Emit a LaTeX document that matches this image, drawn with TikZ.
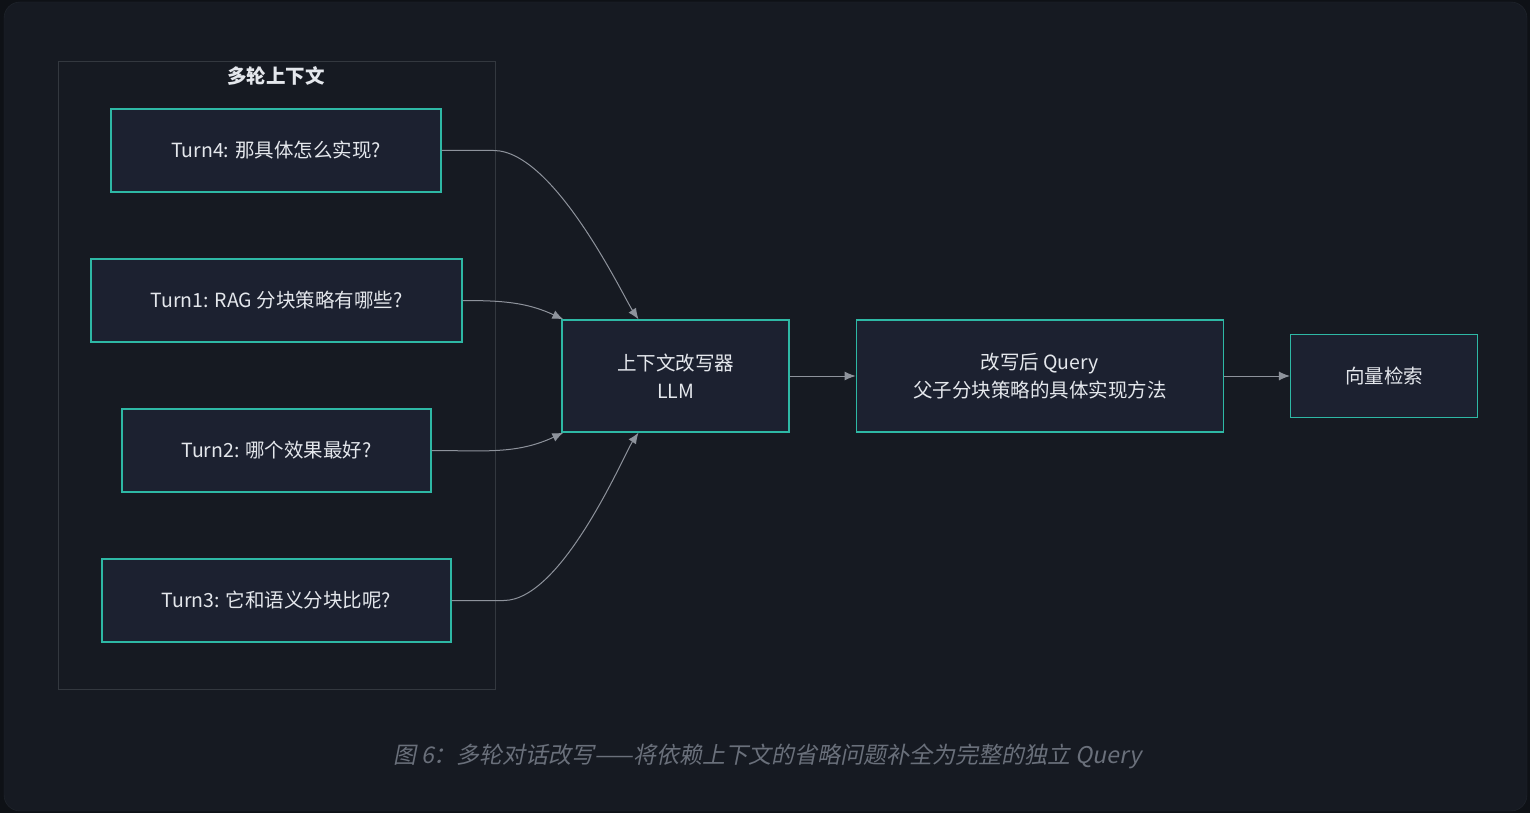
\documentclass[tikz,border=0pt]{standalone}
\usepackage{fontspec}
\setmainfont{Noto Sans CJK SC}
\newfontfamily\capfont[FakeSlant=0.2]{Noto Sans CJK SC}
\usepackage{tikz}
\usetikzlibrary{arrows.meta,positioning}

\definecolor{outerbg}{HTML}{0E1116}
\definecolor{panelbg}{HTML}{161A22}
\definecolor{panelline}{HTML}{22272F}
\definecolor{nodefill}{HTML}{1C2130}
\definecolor{tealline}{HTML}{2EB8A5}
\definecolor{groupline}{HTML}{33383F}
\definecolor{arrowgrey}{HTML}{8E939C}
\definecolor{textcol}{HTML}{E4E7EC}
\definecolor{capcol}{HTML}{6A707B}

\begin{document}
\begin{tikzpicture}[x=1pt,y=-1pt,>={Latex[length=11pt,width=9pt]},
  font=\fontsize{19.5}{28}\selectfont,
  turn node/.style={rectangle,draw=tealline,line width=1.3pt,fill=nodefill,text=textcol,minimum height=83pt,align=center},
  proc node/.style={turn node,minimum height=112pt},
  link/.style={->,draw=arrowgrey,line width=1pt}]
  % background
  \fill[outerbg] (0,0) rectangle (1530,813);
  \fill[panelbg,draw=panelline,rounded corners=16pt] (4,2) rectangle (1527,811);
  \useasboundingbox (0,0) rectangle (1530,813);
  % group
  \draw[groupline,line width=1pt] (58,62) rectangle (495,689);
  \node[text=textcol,font=\fontsize{19.5}{24}\selectfont\bfseries] (ctx) at (276,76) {多轮上下文};
  \node[turn node,minimum width=330pt] (t4) at (276,150.5) {Turn4: 那具体怎么实现?};
  \node[turn node,minimum width=371pt] (t1) at (276.5,300.5) {Turn1: RAG 分块策略有哪些?};
  \node[turn node,minimum width=309pt] (t2) at (276.5,450.5) {Turn2: 哪个效果最好?};
  \node[turn node,minimum width=349pt] (t3) at (276.5,600.5) {Turn3: 它和语义分块比呢?};
  % pipeline
  \node[proc node,minimum width=227pt] (llm) at (675.5,376) {上下文改写器\\LLM};
  \node[proc node,minimum width=367pt,right=66pt of llm] (query) {改写后 Query\\父子分块策略的具体实现方法};
  \node[turn node,minimum width=187pt,right=66pt of query] (search) {向量检索};
  \draw[link] (t4.east) -- ++(52,0) to[out=0,in=124,out looseness=0.7,in looseness=0.3] ([xshift=-37pt]llm.north);
  \draw[link] (t3.east) -- ++(52,0) to[out=0,in=236,out looseness=0.7,in looseness=0.3] ([xshift=-37pt]llm.south);
  \path[every edge/.append style={link}]
    (t1.east) edge[out=0,in=155] ([xshift=2pt]llm.north west)
    (t2.east) edge[out=0,in=205] ([xshift=2pt]llm.south west)
    (llm) edge (query)
    (query) edge (search);
  % caption
  \node[text=capcol,font=\fontsize{23}{27}\selectfont\capfont] (cap) at (767,756) {图 6：多轮对话改写——将依赖上下文的省略问题补全为完整的独立 Query};
\end{tikzpicture}
\end{document}
